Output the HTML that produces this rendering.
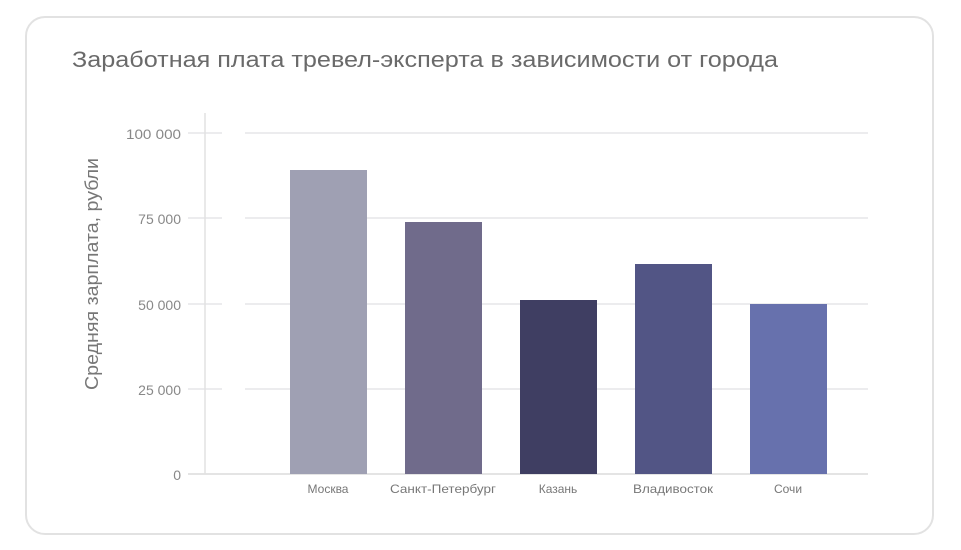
<!DOCTYPE html>
<html><head><meta charset="utf-8"><style>
body{margin:0;background:#fff;width:961px;height:550px;overflow:hidden;font-family:"Liberation Sans",sans-serif}
.card{position:absolute;left:25px;top:16px;width:909px;height:519px;border:2px solid #e2e2e2;border-radius:20px;box-sizing:border-box}
</style></head><body>
<div class="card"></div>
<svg width="961" height="550" style="position:absolute;left:0;top:0" font-family="Liberation Sans, sans-serif">
<text x="72" y="67" font-size="22" fill="#6a6a6a" textLength="706" lengthAdjust="spacingAndGlyphs">Заработная плата тревел-эксперта в зависимости от города</text>
<g stroke="#e6e6e8" stroke-width="1.5">
<line x1="188" x2="222" y1="133" y2="133"/><line x1="245" x2="868" y1="133" y2="133"/>
<line x1="188" x2="222" y1="218" y2="218"/><line x1="245" x2="868" y1="218" y2="218"/>
<line x1="188" x2="222" y1="304" y2="304"/><line x1="245" x2="868" y1="304" y2="304"/>
<line x1="188" x2="222" y1="389" y2="389"/><line x1="245" x2="868" y1="389" y2="389"/>
<line x1="188" x2="868" y1="474" y2="474" stroke="#dcdcdc"/>
<line x1="205" x2="205" y1="113" y2="474" stroke="#e2e2e2"/>
</g>
<g font-size="14" fill="#888" text-anchor="end">
<text x="181" y="139" textLength="55" lengthAdjust="spacingAndGlyphs">100 000</text><text x="181" y="224">75 000</text><text x="181" y="310">50 000</text><text x="181" y="395">25 000</text><text x="181" y="480">0</text>
</g>
<text transform="translate(98,274) rotate(-90)" font-size="18" fill="#777" text-anchor="middle" textLength="232" lengthAdjust="spacingAndGlyphs">Средняя зарплата, рубли</text>
<rect x="290" y="170" width="77" height="304" fill="#9fa0b3"/>
<rect x="405" y="222" width="77" height="252" fill="#706b8b"/>
<rect x="520" y="300" width="77" height="174" fill="#3f3e62"/>
<rect x="635" y="264" width="77" height="210" fill="#525585"/>
<rect x="750" y="304" width="77" height="170" fill="#6771ad"/>
<g font-size="12" fill="#777" text-anchor="middle">
<text x="328" y="493">Москва</text><text x="443" y="493" textLength="106" lengthAdjust="spacingAndGlyphs">Санкт-Петербург</text><text x="558" y="493">Казань</text><text x="673" y="493" textLength="80" lengthAdjust="spacingAndGlyphs">Владивосток</text><text x="788" y="493">Сочи</text>
</g>
</svg>
</body></html>
